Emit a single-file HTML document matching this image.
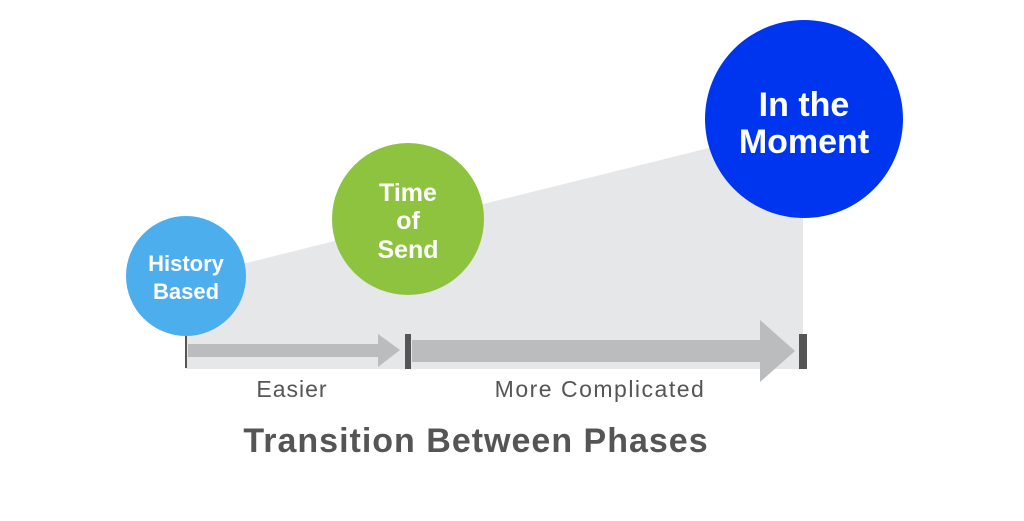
<!DOCTYPE html>
<html><head><style>
body{margin:0;background:#fff;}
svg text{font-family:"Liberation Sans",sans-serif;}
</style></head><body>
<svg width="1024" height="516" viewBox="0 0 1024 516" xmlns="http://www.w3.org/2000/svg">
<polygon points="186,278 745,139 803,139 803,369 186,369" fill="#e6e7e9"/>
<rect x="188" y="344" width="192" height="13" fill="#bbbcbe"/>
<polygon points="378,334 400,350 378,367" fill="#bbbcbe"/>
<rect x="412" y="340" width="350" height="22" fill="#bbbcbe"/>
<polygon points="760,320 795,351 760,382" fill="#bbbcbe"/>
<rect x="185" y="330" width="2" height="38" fill="#555"/>
<rect x="405" y="334" width="6" height="35" fill="#555"/>
<rect x="799" y="334" width="8" height="35" fill="#555"/>
<circle cx="186" cy="276" r="60" fill="#4daeee"/>
<circle cx="408" cy="219" r="76" fill="#8dc33f"/>
<circle cx="804" cy="119" r="99" fill="#0035f0"/>
<g fill="#fff" font-weight="bold" text-anchor="middle">
<text x="186" y="271" font-size="22">History</text>
<text x="186" y="299" font-size="22">Based</text>
<text x="408" y="201" font-size="25">Time</text>
<text x="408" y="229" font-size="25">of</text>
<text x="408" y="258" font-size="25">Send</text>
<text x="804" y="116" font-size="34">In the</text>
<text x="804" y="153" font-size="34">Moment</text>
</g>
<g fill="#555" text-anchor="middle">
<text x="292" y="397" font-size="23" letter-spacing="1">Easier</text>
<text x="600" y="397" font-size="23" letter-spacing="1.5">More Complicated</text>
<text x="476" y="452" font-size="34" font-weight="bold" letter-spacing="1">Transition Between Phases</text>
</g>
</svg>
</body></html>
